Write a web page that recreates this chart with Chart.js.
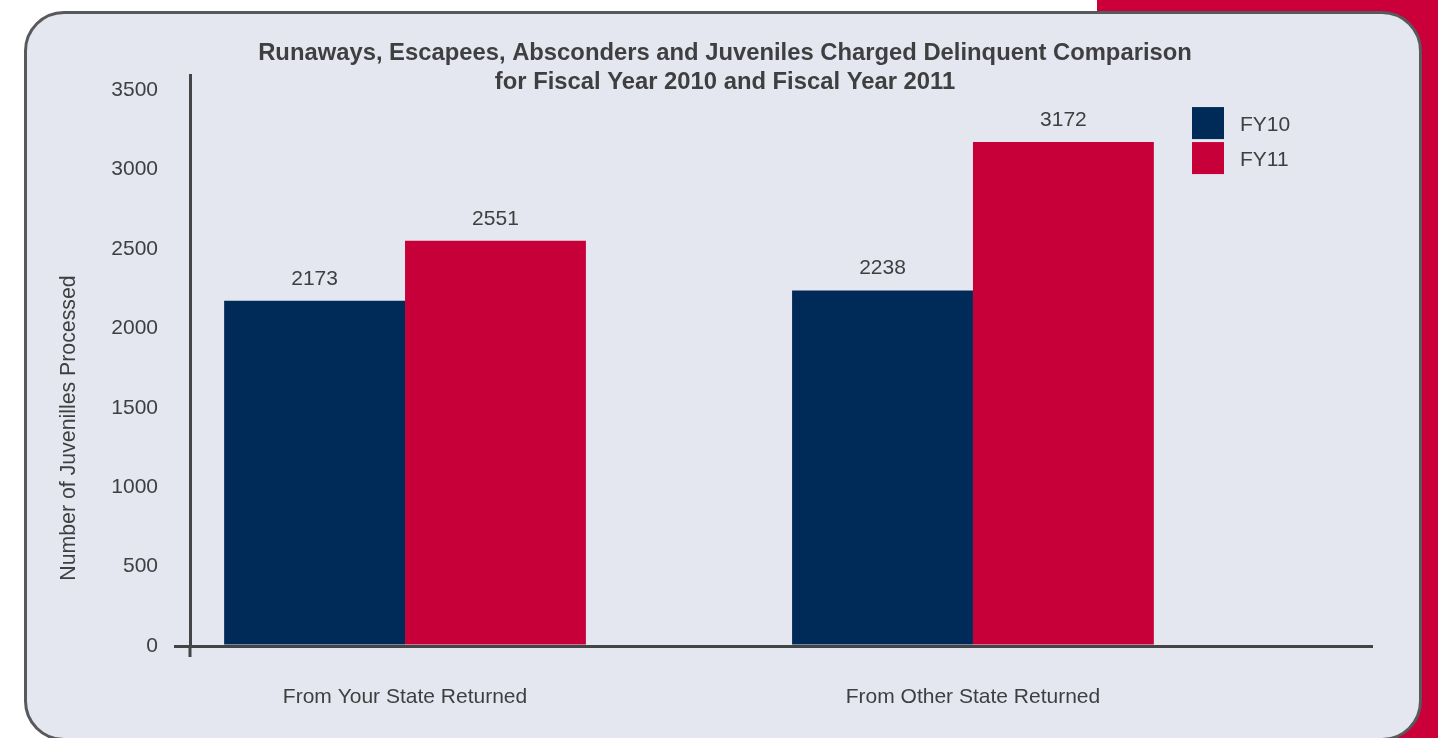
<!DOCTYPE html>
<html>
<head>
<meta charset="utf-8">
<script src="https://cdn.jsdelivr.net/npm/chart.js@4.4.1/dist/chart.umd.min.js"></script>
<style>
  html, body { margin: 0; padding: 0; background: #fff; width: 1438px; height: 738px; overflow: hidden; }
  .strip { position: absolute; left: 1097px; top: 0; width: 341px; height: 738px; background: #cb003a; }
  .panel { position: absolute; left: 24px; top: 11px; width: 1392px; height: 724px; background: #e4e7ef;
           border: 3px solid #58595b; border-radius: 40px; }
  canvas { position: absolute; left: 0; top: 0; }
</style>
</head>
<body>
<div class="strip"></div>
<div class="panel"></div>
<canvas id="mychart" width="1438" height="738"></canvas>
<script>
const categories = ['From Your State Returned', 'From Other State Returned'];
const seriesNames = ['FY10', 'FY11'];
const fy10 = [2173, 2238];
const fy11 = [2551, 3172];
const yTicks = [0, 500, 1000, 1500, 2000, 2500, 3000, 3500];
const titleLines = ['Runaways, Escapees, Absconders and Juveniles Charged Delinquent Comparison',
                    'for Fiscal Year 2010 and Fiscal Year 2011'];
const yTitle = 'Number of Juvenilles Processed';

const navy = '#002a58';
const red = '#c8003a';
const textColor = '#3f3f41';
const axisColor = '#444446';
const fontFamily = '"Liberation Sans", Arial, Helvetica, sans-serif';

Chart.defaults.font.family = fontFamily;
Chart.defaults.color = textColor;

// value labels, in-plot legend, y title and the little stub under the origin
const decorations = {
    id: 'decorations',
    afterDraw(chart) {
        const { ctx, chartArea } = chart;
        ctx.save();

        ctx.strokeStyle = axisColor;
        ctx.lineWidth = 3;
        ctx.beginPath();
        ctx.moveTo(chartArea.left, chartArea.bottom);
        ctx.lineTo(chartArea.left, chartArea.bottom + 11);
        ctx.stroke();

        ctx.font = '21px ' + fontFamily;
        ctx.fillStyle = textColor;
        ctx.textAlign = 'center';
        ctx.textBaseline = 'middle';
        chart.data.datasets.forEach((ds, di) => {
            chart.getDatasetMeta(di).data.forEach((bar, i) => {
                ctx.fillText(String(ds.data[i].y), bar.x, bar.y - 22);
            });
        });

        const lx = chartArea.right - 180;
        const ly = chartArea.top + 32;
        ctx.textAlign = 'left';
        chart.data.datasets.forEach((ds, di) => {
            ctx.fillStyle = ds.backgroundColor;
            ctx.fillRect(lx, ly + di * 35, 32, 32);
            ctx.fillStyle = textColor;
            ctx.fillText(ds.label, lx + 48, ly + di * 35 + 18);
        });

        ctx.font = '21.3px ' + fontFamily;
        ctx.translate(chartArea.left - 121, chartArea.bottom - 218);
        ctx.rotate(-Math.PI / 2);
        ctx.textAlign = 'center';
        ctx.fillText(yTitle, 0, 0);
        ctx.restore();
    }
};

const ctx = document.getElementById('mychart').getContext('2d');
let myChart = new Chart(ctx, {
    type: 'bar',
    data: {
        datasets: [
            {
                label: seriesNames[0],
                data: fy10.map((v, i) => ({ x: i, y: v })),
                backgroundColor: navy,
                borderWidth: 0,
                barPercentage: 1,
                categoryPercentage: 0.637
            },
            {
                label: seriesNames[1],
                data: fy11.map((v, i) => ({ x: i, y: v })),
                backgroundColor: red,
                borderWidth: 0,
                barPercentage: 1,
                categoryPercentage: 0.637
            }
        ]
    },
    options: {
        responsive: false,
        animation: false,
        layout: { padding: { left: 78, right: 66, top: 0, bottom: 0 } },
        plugins: {
            legend: { display: false },
            tooltip: { enabled: false },
            title: {
                display: true,
                text: titleLines,
                color: textColor,
                font: { size: 23.8, weight: 'bold', lineHeight: 1.22 },
                padding: { top: 38.5, bottom: -21.5 }
            }
        },
        scales: {
            x: {
                type: 'linear',
                offset: false,
                min: -0.3786,
                max: 1.7026,
                afterBuildTicks: s => { s.ticks = categories.map((c, i) => ({ value: i })); },
                afterFit: s => { s.height = 92; },
                ticks: {
                    callback: (v, i) => categories[i],
                    color: textColor,
                    font: { size: 21 },
                    padding: 39,
                    maxRotation: 0,
                    autoSkip: false
                },
                grid: { offset: false, drawOnChartArea: false, drawTicks: false, color: 'rgba(0,0,0,0)' },
                border: { display: true, color: axisColor, width: 3 }
            },
            y: {
                min: 0,
                max: 3594,
                afterBuildTicks: s => { s.ticks = yTicks.map(v => ({ value: v })); },
                afterFit: s => { s.width = 112; },
                ticks: { color: textColor, font: { size: 21 }, padding: 16, callback: v => String(v) },
                grid: {
                    drawOnChartArea: false,
                    drawTicks: true,
                    tickLength: 16,
                    lineWidth: 3,
                    color: c => (c.tick && c.tick.value === 0) ? axisColor : 'rgba(0,0,0,0)'
                },
                border: { display: true, color: axisColor, width: 3 }
            }
        }
    },
    plugins: [decorations]
});
</script>
</body>
</html>
